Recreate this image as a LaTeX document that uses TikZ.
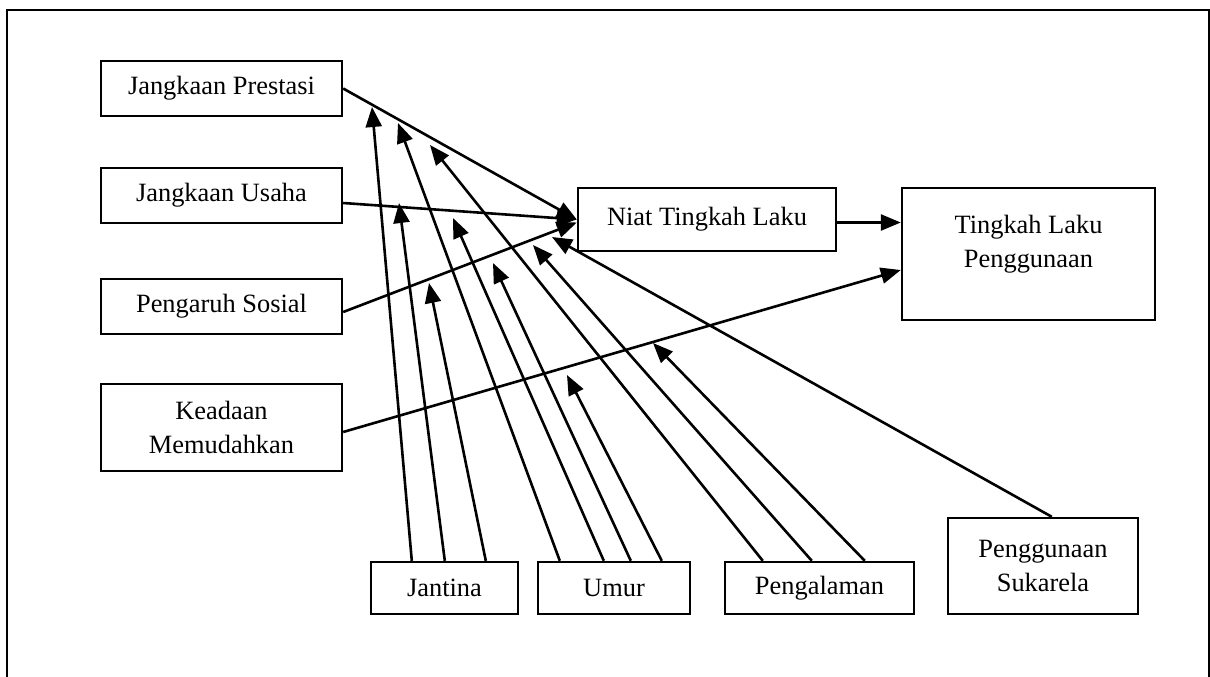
\documentclass[tikz,border=0pt]{standalone}
\usepackage{fontspec}
\setmainfont{Liberation Serif}
\usetikzlibrary{arrows.meta}
\begin{document}
\begin{tikzpicture}[x=1pt,y=-1pt,
  box/.style={draw,line width=2.4pt,inner sep=0pt,align=center,
    font=\fontsize{26.4}{34}\selectfont},
  lbl/.style={inner sep=0pt,align=center,font=\fontsize{26.4}{34}\selectfont},
  link/.style={line width=2.6pt,-{Triangle[length=20pt,width=16pt]}},
]
\useasboundingbox (0,0) rectangle (1210,677);
% outer frame, open at the bottom
\draw[line width=2pt] (7,677) -- (7,10) -- (1209,10) -- (1209,677);

% predictors
\node[box,minimum width=241pt,minimum height=55pt] (jp) at (221.5,88.5) {Jangkaan Prestasi};
\node[box,minimum width=241pt,minimum height=55pt] (ju) at (221.5,195.5) {Jangkaan Usaha};
\node[box,minimum width=241pt,minimum height=55pt] (ps) at (221.5,306.5) {Pengaruh Sosial};
\node[box,minimum width=241pt,minimum height=87pt] (km) at (221.5,427.5) {Keadaan\\Memudahkan};

% outcomes
\node[box,minimum width=258pt,minimum height=63pt] (niat) at (707,219.5) {Niat Tingkah Laku};
\node[box,minimum width=253pt,minimum height=132pt] (tlp) at (1028.5,254) {};
\node[lbl,anchor=north] (tlpt) at ([yshift=-28pt]tlp.north) {Tingkah Laku\\Penggunaan};

% moderators
\node[box,minimum width=147pt,minimum height=52pt] (jan) at (444.5,588) {Jantina};
\node[box,minimum width=152pt,minimum height=52pt] (umur) at (614,588) {Umur};
\node[box,minimum width=189pt,minimum height=52pt] (peng) at (819.5,588) {Pengalaman};
\node[box,minimum width=190pt,minimum height=96pt] (suk) at (1043,566) {Penggunaan\\Sukarela};

% arrow tips of the moderating effects
\coordinate (j1) at (372,107);
\coordinate (j2) at (399,203);
\coordinate (j3) at (429,283);
\coordinate (u1) at (398,123);
\coordinate (u2) at (453,218);
\coordinate (u3) at (493,263);
\coordinate (u4) at (567,375);
\coordinate (p1) at (430,145);
\coordinate (p2) at (533,245);
\coordinate (p3) at (653,343);
\coordinate (s1) at (552,237);

% main paths
\draw[link] (jp.east) -- (niat.west);
\draw[link] ([yshift=-7.5pt]ju.east) -- (niat.west);
\draw[link] ([yshift=-5.5pt]ps.east) -- ([yshift=-3pt]niat.west);
\draw[link] ([yshift=-4.5pt]km.east) -- ([yshift=-16pt]tlp.west);
\draw[link] ([yshift=-3pt]niat.east) -- ([yshift=-3pt]niat.east -| tlp.west);

% moderating effects
\draw[link] ([xshift=42pt]jan.north west) -- (j1);
\draw[link] ([xshift=75pt]jan.north west) -- (j2);
\draw[link] ([xshift=116pt]jan.north west) -- (j3);
\draw[link] ([xshift=23pt]umur.north west) -- (u1);
\draw[link] ([xshift=67pt]umur.north west) -- (u2);
\draw[link] ([xshift=94pt]umur.north west) -- (u3);
\draw[link] ([xshift=125pt]umur.north west) -- (u4);
\draw[link] ([xshift=39pt]peng.north west) -- (p1);
\draw[link] ([xshift=88pt]peng.north west) -- (p2);
\draw[link] ([xshift=141pt]peng.north west) -- (p3);
\draw[link] ([xshift=105pt]suk.north west) -- (s1);
\end{tikzpicture}
\end{document}
